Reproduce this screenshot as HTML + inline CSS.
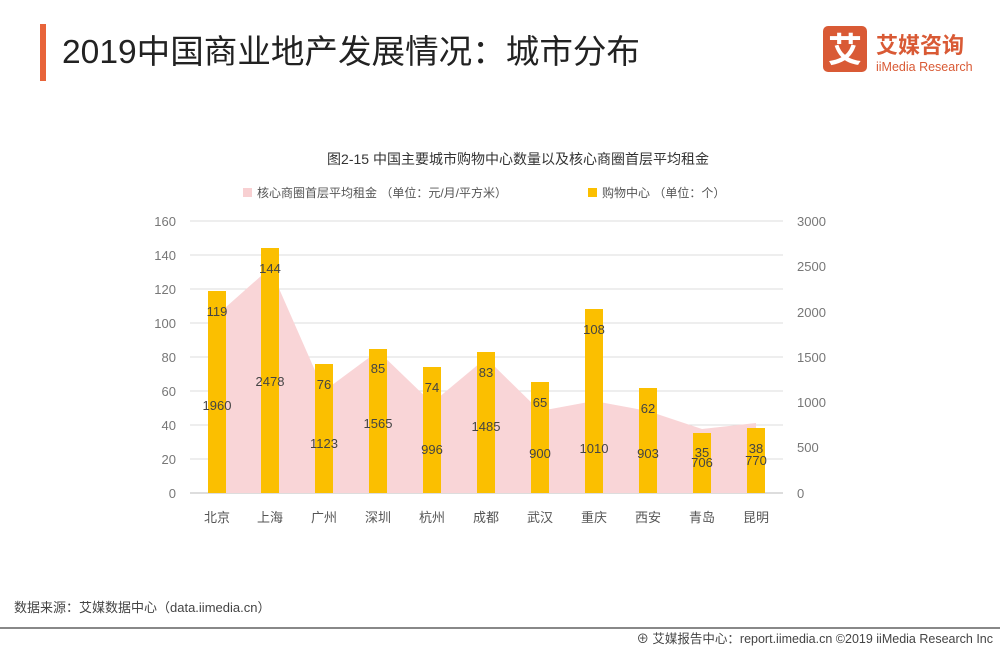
<!DOCTYPE html>
<html><head><meta charset="utf-8"><style>
body{margin:0;width:1000px;height:650px;background:#fff;overflow:hidden;font-family:"Liberation Sans","Noto Sans CJK SC",sans-serif;}
</style></head><body>
<svg width="1000" height="650" xmlns="http://www.w3.org/2000/svg" font-family="Liberation Sans, Noto Sans CJK SC, sans-serif">
<rect x="40" y="24" width="6" height="57" fill="#e8643a"/>
<text x="62" y="63" font-size="33" fill="#222" textLength="578" lengthAdjust="spacingAndGlyphs">2019中国商业地产发展情况：城市分布</text>
<rect x="823" y="26" width="44" height="46" rx="5" fill="#d95a35"/>
<text x="845" y="62" font-size="34" fill="#fff" text-anchor="middle" font-weight="bold">艾</text>
<text x="876" y="53" font-size="22" fill="#d95a35" font-weight="bold">艾媒咨询</text>
<text x="876" y="71" font-size="12.5" fill="#d95a35">iiMedia Research</text>
<text x="518" y="164" font-size="14" fill="#333" text-anchor="middle">图2-15 中国主要城市购物中心数量以及核心商圈首层平均租金</text>
<rect x="243" y="188" width="9" height="9" fill="#f8d0d2"/>
<text x="257" y="197" font-size="12" fill="#555">核心商圈首层平均租金 （单位：元/月/平方米）</text>
<rect x="588" y="188" width="9" height="9" fill="#fbbf00"/>
<text x="602" y="197" font-size="12" fill="#555">购物中心 （单位：个）</text>
<g stroke="#ddd" stroke-width="1">
<line x1="190" y1="221" x2="783" y2="221"/><line x1="190" y1="255" x2="783" y2="255"/><line x1="190" y1="289" x2="783" y2="289"/><line x1="190" y1="323" x2="783" y2="323"/><line x1="190" y1="357" x2="783" y2="357"/><line x1="190" y1="391" x2="783" y2="391"/><line x1="190" y1="425" x2="783" y2="425"/><line x1="190" y1="459" x2="783" y2="459"/><line x1="190" y1="493" x2="783" y2="493" stroke="#bbb"/>
</g>
<g font-size="13" fill="#777" text-anchor="end">
<text x="176" y="226">160</text><text x="176" y="260">140</text><text x="176" y="294">120</text><text x="176" y="328">100</text><text x="176" y="362">80</text><text x="176" y="396">60</text><text x="176" y="430">40</text><text x="176" y="464">20</text><text x="176" y="498">0</text>
</g>
<g font-size="13" fill="#777">
<text x="797" y="226">3000</text><text x="797" y="271">2500</text><text x="797" y="317">2000</text><text x="797" y="362">1500</text><text x="797" y="407">1000</text><text x="797" y="452">500</text><text x="797" y="498">0</text>
</g>
<polygon fill="#f9d5d7" points="217,493 217,315 270,268 324,391 378,351 432,403 486,358 540,411 594,401 648,411 702,429 756,423 756,493"/>
<g fill="#fbbf00">
<rect x="208" y="291" width="18" height="202"/><rect x="261" y="248" width="18" height="245"/><rect x="315" y="364" width="18" height="129"/><rect x="369" y="349" width="18" height="144"/><rect x="423" y="367" width="18" height="126"/><rect x="477" y="352" width="18" height="141"/><rect x="531" y="382" width="18" height="111"/><rect x="585" y="309" width="18" height="184"/><rect x="639" y="388" width="18" height="105"/><rect x="693" y="433" width="18" height="60"/><rect x="747" y="428" width="18" height="65"/>
</g>
<g font-size="13" fill="#444" text-anchor="middle">
<text x="217" y="316">119</text><text x="270" y="273">144</text><text x="324" y="389">76</text><text x="378" y="373">85</text><text x="432" y="392">74</text><text x="486" y="377">83</text><text x="540" y="407">65</text><text x="594" y="334">108</text><text x="648" y="413">62</text><text x="702" y="457">35</text><text x="756" y="453">38</text>
<text x="217" y="410">1960</text><text x="270" y="386">2478</text><text x="324" y="448">1123</text><text x="378" y="428">1565</text><text x="432" y="454">996</text><text x="486" y="431">1485</text><text x="540" y="458">900</text><text x="594" y="453">1010</text><text x="648" y="458">903</text><text x="702" y="467">706</text><text x="756" y="465">770</text>
</g>
<g font-size="13" fill="#555" text-anchor="middle">
<text x="217" y="522">北京</text><text x="270" y="522">上海</text><text x="324" y="522">广州</text><text x="378" y="522">深圳</text><text x="432" y="522">杭州</text><text x="486" y="522">成都</text><text x="540" y="522">武汉</text><text x="594" y="522">重庆</text><text x="648" y="522">西安</text><text x="702" y="522">青岛</text><text x="756" y="522">昆明</text>
</g>
<text x="14" y="612" font-size="13" fill="#444">数据来源：艾媒数据中心（data.iimedia.cn）</text>
<rect x="0" y="627" width="1000" height="2" fill="#888"/>
<text x="993" y="643" font-size="12.5" fill="#444" text-anchor="end">⊕ 艾媒报告中心：report.iimedia.cn  ©2019  iiMedia Research Inc</text>
</svg>
</body></html>
